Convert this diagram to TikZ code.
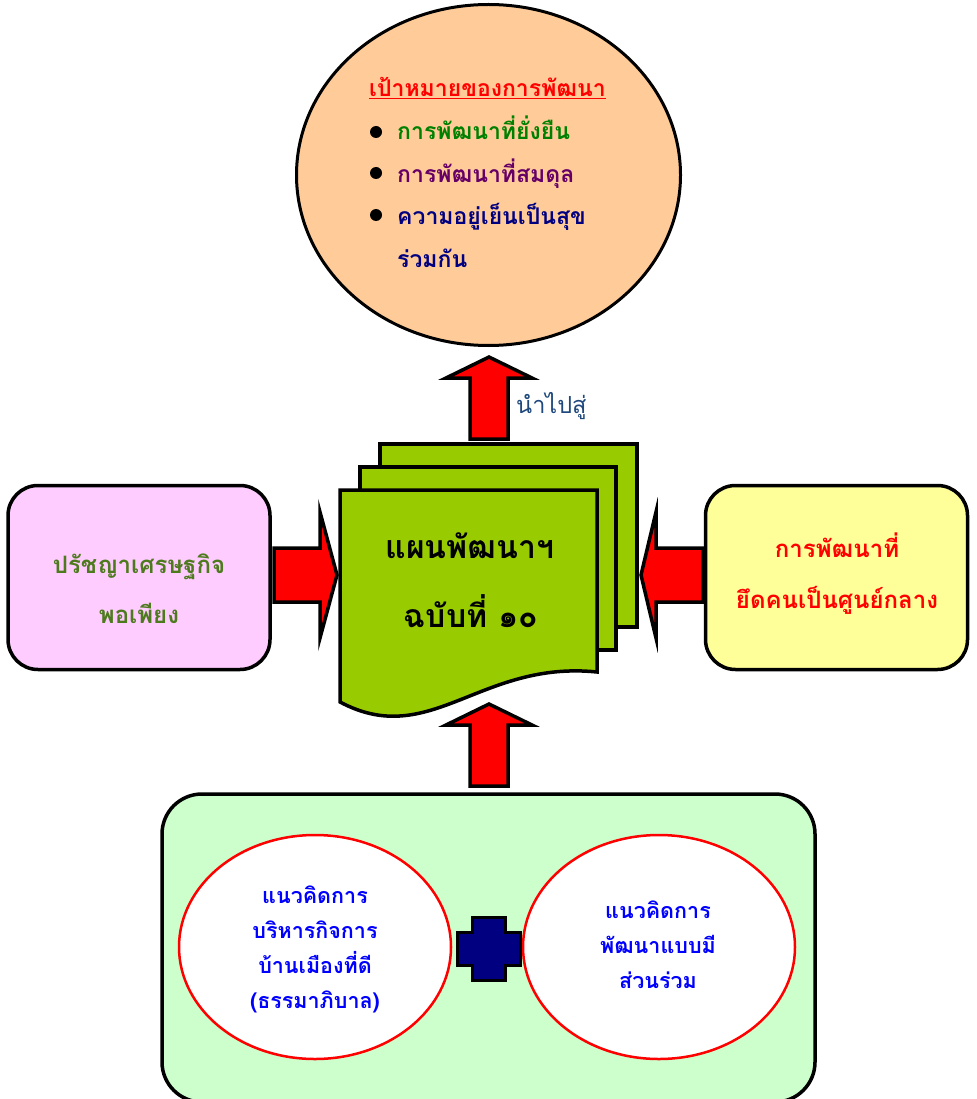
\documentclass[tikz,border=0pt]{standalone}
\usepackage{fontspec}
\newfontfamily\thai[Script=Thai]{Loma}
\usetikzlibrary{shapes.geometric}
\definecolor{peach}{HTML}{FFCC99}
\definecolor{docgreen}{HTML}{99CC00}
\definecolor{pinkbox}{HTML}{FFCCFF}
\definecolor{yellowbox}{HTML}{FFFF99}
\definecolor{mint}{HTML}{CCFFCC}
\definecolor{navy}{HTML}{000080}
\definecolor{itemgreen}{HTML}{008000}
\definecolor{itempurple}{HTML}{660066}
\definecolor{olive}{HTML}{4E7A1E}
\definecolor{leadblue}{HTML}{1F497D}

\begin{document}
\begin{tikzpicture}[x=1pt,y=-1pt,
  redarrow/.style={fill=red,draw=black,line width=3.5pt},
  page/.style={fill=docgreen,draw=black,line width=3.5pt},
  sidebox/.style={rectangle,rounded corners=30pt,draw=black,line width=3.5pt,minimum width=262pt,minimum height=184pt},
  idea/.style={ellipse,draw=red,line width=2.5pt,fill=white,minimum width=272pt,minimum height=224pt},
  dot/.style={circle,fill=black,inner sep=0pt,minimum size=12pt},
  item/.style={anchor=base west,inner sep=0pt,font=\thai\bfseries\fontsize{23}{30}\selectfont},
  line/.style={anchor=base,inner sep=0pt,font=\thai\bfseries\fontsize{24}{30}\selectfont},
  small/.style={anchor=base,inner sep=0pt,text=blue,font=\thai\bfseries\fontsize{21.5}{30}\selectfont}]
\useasboundingbox (0,0) rectangle (976,1099);
\node[ellipse,draw=black,fill=peach,line width=3pt,minimum width=384pt,minimum height=341pt] (goal) at (488.5,175) {};
\node[item,text=red] (goalhead) at (369,97) {\underline{เป้าหมายของการพัฒนา}};
\node[dot] (d1) at (376,132) {};
\node[dot] (d2) at (376,173) {};
\node[dot] (d3) at (376,215) {};
\node[item,text=itemgreen] (g1) at (397,140) {การพัฒนาที่ยั่งยืน};
\node[item,text=itempurple] (g2) at (397,183) {การพัฒนาที่สมดุล};
\node[item,text=navy] (g3) at (397,225) {ความอยู่เย็นเป็นสุข};
\node[item,text=navy] (g4) at (397,267) {ร่วมกัน};

\draw[redarrow] (470,439) -- (470,378) -- (446,378) -- (489,357) -- (532,378) -- (508,378) -- (508,439) -- cycle;
\node[anchor=base west,inner sep=0pt,text=leadblue,font=\thai\fontsize{23.5}{24}\selectfont] (lead) at (516,413) {นำไปสู่};

\draw[page] (380,444) rectangle (637,627);
\draw[page] (360,467) rectangle (616,650);
\draw[page] (340,490) -- (597,490) -- (597,672) .. controls (480,660) and (430,750) .. (340,702) -- cycle;
\node[anchor=base,inner sep=0pt,font=\thai\bfseries\fontsize{32}{40}\selectfont] (plan1) at (470,558) {แผนพัฒนาฯ};
\node[anchor=base,inner sep=0pt,font=\thai\bfseries\fontsize{32}{40}\selectfont] (plan2) at (471,627) {ฉบับที่ ๑๐};

\node[sidebox,fill=pinkbox] (phil) at (139,577.5) {};
\node[line,text=olive] (phil1) at (139,573) {ปรัชญาเศรษฐกิจ};
\node[line,text=olive] (phil2) at (139,623) {พอเพียง};
\draw[redarrow] (274,548) -- (320,548) -- (320,512) -- (337,575) -- (320,638) -- (320,602) -- (274,602) -- cycle;

\node[sidebox,fill=yellowbox] (people) at (836.5,577.5) {};
\node[line,text=red] (people1) at (837,557) {การพัฒนาที่};
\node[line,text=red] (people2) at (837,608) {ยึดคนเป็นศูนย์กลาง};
\draw[redarrow] (703,548) -- (656,548) -- (656,512) -- (641,575) -- (656,638) -- (656,602) -- (703,602) -- cycle;

\draw[redarrow] (470,786) -- (470,725) -- (446,725) -- (489,704) -- (532,725) -- (508,725) -- (508,786) -- cycle;

\draw[fill=mint,line width=3.5pt,rounded corners=40pt] (162,794) rectangle (815,1102);
\node[idea] (gov) at (315,947) {};
\node[idea] (part) at (659,947) {};
\node[small] (gov1) at (315,903) {แนวคิดการ};
\node[small] (gov2) at (315,938) {บริหารกิจการ};
\node[small] (gov3) at (315,973) {บ้านเมืองที่ดี};
\node[small] (gov4) at (315,1008) {(ธรรมาภิบาล)};
\node[small] (part1) at (658,918) {แนวคิดการ};
\node[small] (part2) at (658,953) {พัฒนาแบบมี};
\node[small] (part3) at (658,988) {ส่วนร่วม};
\draw[fill=navy,line width=3pt] (472,917) -- (505,917) -- (505,932) -- (520,932) -- (520,965) -- (505,965) -- (505,980) -- (472,980) -- (472,965) -- (457,965) -- (457,932) -- (472,932) -- cycle;
\end{tikzpicture}
\end{document}
